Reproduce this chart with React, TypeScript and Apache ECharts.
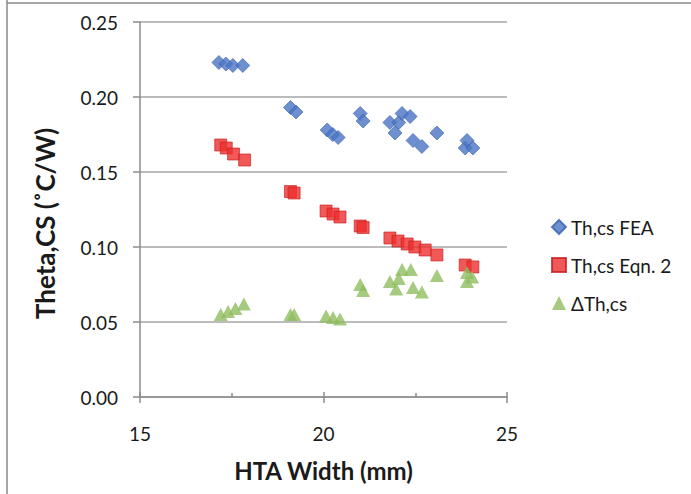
import React, { useEffect, useRef } from "react";
import * as echarts from "echarts";

const xTicks = [15, 20, 25];
const yTicks = [0, 0.05, 0.1, 0.15, 0.2, 0.25];

const feaX = [17.15, 17.34, 17.53, 17.8, 19.1, 19.25, 20.1, 20.25, 20.4, 21.0, 21.08, 21.81, 21.95, 22.05, 22.14, 22.36, 22.44, 22.68, 23.09, 23.86, 23.91, 24.07];
const feaY = [0.223, 0.222, 0.221, 0.221, 0.193, 0.19, 0.178, 0.175, 0.173, 0.189, 0.184, 0.183, 0.176, 0.183, 0.189, 0.187, 0.171, 0.167, 0.176, 0.166, 0.171, 0.166];

const eqnX = [17.2, 17.35, 17.55, 17.85, 19.1, 19.2, 20.07, 20.26, 20.45, 21.0, 21.08, 21.81, 22.03, 22.28, 22.49, 22.77, 23.09, 23.86, 24.07];
const eqnY = [0.168, 0.166, 0.162, 0.158, 0.137, 0.136, 0.124, 0.122, 0.12, 0.114, 0.113, 0.106, 0.104, 0.102, 0.1, 0.098, 0.0947, 0.088, 0.0867];

const dX = [17.2, 17.4, 17.6, 17.83, 19.1, 19.2, 20.07, 20.26, 20.45, 21.0, 21.08, 21.81, 21.98, 22.05, 22.14, 22.38, 22.44, 22.68, 23.09, 23.91, 23.91, 24.05];
const dY = [0.055, 0.057, 0.059, 0.062, 0.055, 0.055, 0.054, 0.053, 0.052, 0.075, 0.071, 0.077, 0.072, 0.079, 0.085, 0.085, 0.073, 0.07, 0.081, 0.083, 0.077, 0.08];

const seriesNames = ["Th,cs FEA", "Th,cs Eqn. 2", "\u0394Th,cs"];

const zip = (xs: number[], ys: number[]) => xs.map((x, i) => [x, ys[i]]);

const FONT = "Lato";

export default function App() {
  const ref = useRef<HTMLDivElement>(null);
  useEffect(() => {
    if (!ref.current) return;
    const chart = echarts.init(ref.current, null, { renderer: "svg" });
    chart.setOption({
      animation: false,
      backgroundColor: "#ffffff",
      textStyle: { fontFamily: FONT },
      grid: { left: 140, right: 184, top: 22, bottom: 97 },
      graphic: [
        { type: "line", shape: { x1: 7, y1: 0, x2: 7, y2: 494 }, style: { stroke: "#8a8a8a", lineWidth: 1.5 } },
        { type: "line", shape: { x1: 7, y1: 3, x2: 691, y2: 3 }, style: { stroke: "#8a8a8a", lineWidth: 1.5 } },
      ],
      legend: {
        orient: "vertical",
        left: 546,
        top: 212,
        itemWidth: 14,
        itemHeight: 14,
        itemGap: 18,
        textStyle: { fontFamily: FONT, fontSize: 19, color: "#1a1a1a", lineHeight: 20 },
        data: seriesNames,
      },
      xAxis: [
        {
          type: "value",
          min: xTicks[0],
          max: xTicks[xTicks.length - 1],
          interval: 5,
          axisLine: { show: true, lineStyle: { color: "#8c8c8c", width: 1.5 } },
          axisTick: { show: true, inside: true, length: 5, lineStyle: { color: "#8c8c8c", width: 1.5 } },
          minorTick: { show: true, splitNumber: 2, length: 4, lineStyle: { color: "#8c8c8c", width: 1.5 } },
          splitLine: { show: false },
          axisLabel: { margin: 27, fontFamily: FONT, fontSize: 19, color: "#1a1a1a" },
          name: "HTA Width (mm)",
          nameLocation: "middle",
          nameGap: 61,
          nameTextStyle: { fontFamily: FONT, fontSize: 24, fontWeight: "bold", color: "#1a1a1a" },
        },
        {
          type: "value",
          position: "bottom",
          min: xTicks[0],
          max: xTicks[xTicks.length - 1],
          interval: 5,
          axisLine: { show: false },
          axisTick: { show: true, inside: false, length: 6, lineStyle: { color: "#8c8c8c", width: 1.5 } },
          splitLine: { show: false },
          axisLabel: { show: false },
        },
      ],
      yAxis: {
        type: "value",
        min: yTicks[0],
        max: yTicks[yTicks.length - 1],
        interval: 0.05,
        axisLine: { show: true, lineStyle: { color: "#8c8c8c", width: 1.5 } },
        axisTick: { show: true, inside: false, length: 7, lineStyle: { color: "#8c8c8c", width: 1.5 } },
        splitLine: { show: true, lineStyle: { color: "#a6a6a6", width: 1.5 } },
        axisLabel: { margin: 22, fontFamily: FONT, fontSize: 19, color: "#1a1a1a", formatter: (v: number) => v.toFixed(2) },
        name: "Theta,CS (\u02DAC/W)",
        nameLocation: "middle",
        nameGap: 82,
        nameTextStyle: { fontFamily: FONT, fontSize: 26, fontWeight: "bold", color: "#1a1a1a", padding: [0, 28, 0, 0] },
      },
      series: [
        {
          name: seriesNames[0],
          type: "scatter",
          symbol: "diamond",
          symbolSize: [14, 14],
          itemStyle: { color: "#4a74c4", borderColor: "#3a60ac", borderWidth: 0.8 },
          data: zip(feaX, feaY),
        },
        {
          name: seriesNames[1],
          type: "scatter",
          symbol: "rect",
          symbolSize: 12,
          itemStyle: { color: "#ee2e2e", borderColor: "#c81e1e", borderWidth: 0.8 },
          data: zip(eqnX, eqnY),
        },
        {
          name: seriesNames[2],
          type: "scatter",
          symbol: "triangle",
          symbolSize: [14, 13],
          itemStyle: { color: "#8fbd60" },
          data: zip(dX, dY),
        },
      ],
    });
    return () => chart.dispose();
  }, []);
  return <div ref={ref} style={{ position: "absolute", left: 0, top: 0, width: 691, height: 494 }} />;
}
